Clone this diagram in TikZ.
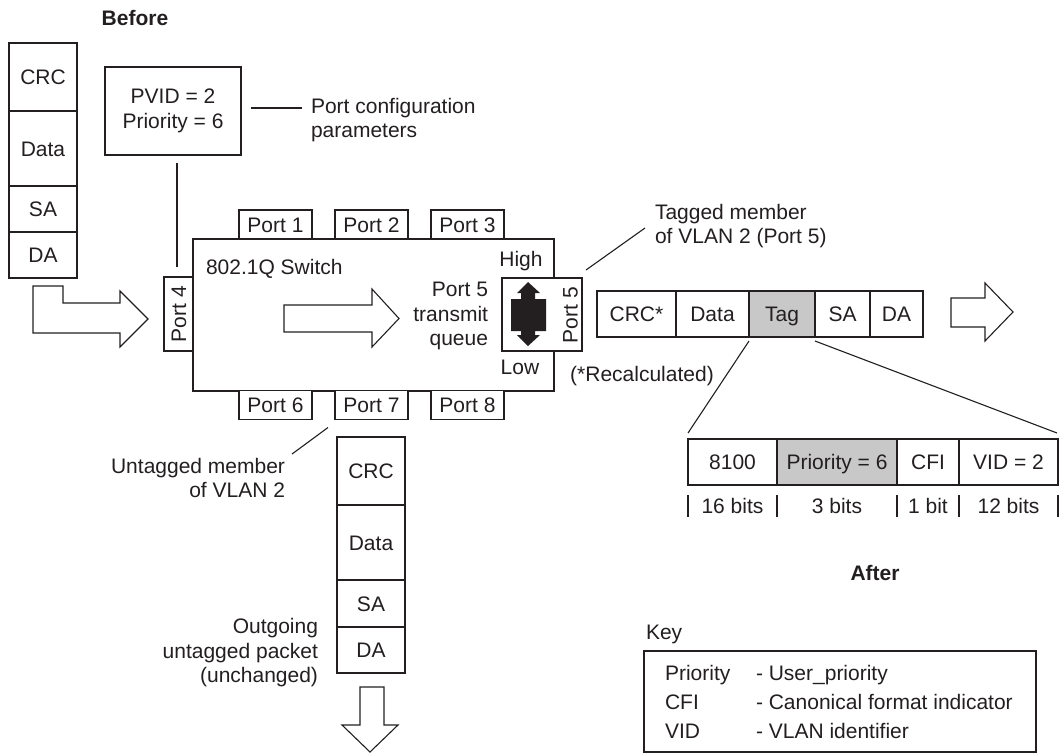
\documentclass[tikz,border=0pt]{standalone}
\usepackage{fontspec}
\setmainfont{Liberation Sans}
\usetikzlibrary{calc}
\definecolor{ink}{HTML}{231F20}
\definecolor{tagfill}{HTML}{C8C8C8}
\begin{document}
\begin{tikzpicture}[x=1pt,y=-1pt,
  every node/.style={text=ink, font=\fontsize{21}{24.5}\selectfont},
  capc/.style={text height=15pt, text depth=0pt},
  box/.style={draw=ink, fill=white, inner sep=0pt, outer sep=0pt, line width=1.1pt},
  fld/.style={box, capc},
  gfld/.style={fld, fill=tagfill},
  lbl/.style={inner sep=0pt, outer sep=0pt},
  one/.style={lbl, capc},
  conn/.style={draw=ink, line width=1.1pt},
  blockarrow/.style={draw=ink, fill=white, line width=1.1pt, line join=miter},
  title/.style={one, font=\fontsize{21}{24.5}\selectfont\bfseries}]
\useasboundingbox (0,0) rectangle (1060,753);
\fill[white] (0,0) rectangle (1060,753);

% Before
\node[title] (before) at (135,18) {Before};
\node[fld, minimum width=68, minimum height=68] (bcrc) at (43,77) {CRC};
\node[fld, minimum width=68, minimum height=75] (bdata) at (43,148.5) {Data};
\node[fld, minimum width=68, minimum height=46] (bsa) at (43,209) {SA};
\node[fld, minimum width=68, minimum height=46] (bda) at (43,255) {DA};

% L-shaped input arrow
\draw[blockarrow] (33,286) -- (63,286) -- (63,303) -- (120,303) -- (120,291) -- (148,319)
  -- (120,347) -- (120,333) -- (33,333) -- cycle;

% PVID box
\node[box, minimum width=136, minimum height=88, align=center] (pvid) at (173,111) {PVID = 2\\Priority = 6};
\node[lbl, align=left, anchor=west] (params) at (311,120) {Port configuration\\parameters};
\coordinate (pl1) at (251,108);
\coordinate (pl2) at (302,108);
\draw[conn] (pl1) -- (pl2);

% switch
\node[box, minimum width=361, minimum height=152] (switch) at (373.5,315) {};
\node[one, anchor=west] (swlbl) at (206,267) {802.1Q Switch};
\node[fld, minimum width=73, minimum height=29] (p1) at (275.5,224.5) {Port 1};
\node[fld, minimum width=73, minimum height=29] (p2) at (371.5,224.5) {Port 2};
\node[fld, minimum width=73, minimum height=29] (p3) at (467.5,224.5) {Port 3};
\node[fld, minimum width=73, minimum height=29] (p6) at (275.5,405) {Port 6};
\node[fld, minimum width=73, minimum height=29] (p7) at (371.5,405) {Port 7};
\node[fld, minimum width=73, minimum height=29] (p8) at (467.5,405) {Port 8};
\node[fld, minimum width=74, minimum height=29, rotate=90] (p4) at (178.5,314) {Port 4};
\node[box, minimum width=80, minimum height=73] (p5) at (542,314.5) {};
\node[one, rotate=90] (p5lbl) at (570,315) {Port 5};
\draw[conn] ($(pvid.south)+(4,8)$) -- ($(p4.east)+(-1.5,-10)$);

% queue
\fill[ink] (528,282) -- (540,293) -- (535,293) -- (535,299) -- (546,299) -- (546,331)
  -- (535,331) -- (535,335) -- (540,335) -- (528,346) -- (517,335) -- (521,335)
  -- (521,331) -- (511,331) -- (511,299) -- (521,299) -- (521,293) -- (517,293) -- cycle;
\node[one] (high) at (521,259) {High};
\node[one] (low) at (520,367) {Low};
\node[lbl, align=right, anchor=east] (queue) at (488,316) {Port 5\\transmit\\queue};

% inner arrow
\draw[blockarrow] (284,305) -- (372,305) -- (372,289) -- (399,318.5) -- (372,347) -- (372,332) -- (284,332) -- cycle;

% tagged member
\node[lbl, align=left, anchor=west] (tagged) at (655,226) {Tagged member\\of VLAN 2 (Port 5)};
\coordinate (tl1) at (586,270);
\coordinate (tl2) at (645,228);
\draw[conn] (tl1) -- (tl2);

% tagged packet
\node[fld, minimum width=79, minimum height=46] (tcrc) at (636.5,314) {CRC*};
\node[fld, minimum width=73, minimum height=46] (tdata) at (712.5,314) {Data};
\node[gfld, minimum width=66, minimum height=46] (ttag) at (782,314) {Tag};
\node[fld, minimum width=55, minimum height=46] (tsa) at (842.5,314) {SA};
\node[fld, minimum width=53, minimum height=46] (tda) at (896.5,314) {DA};
\draw[blockarrow] (951,298) -- (985,298) -- (985,283) -- (1013,312) -- (985,341) -- (985,327) -- (951,327) -- cycle;
\node[one] (recalc) at (642,374) {(*Recalculated)};

% tag fields
\node[fld, minimum width=89, minimum height=46] (f8100) at (732.5,462) {8100};
\node[gfld, minimum width=120, minimum height=46] (fprio) at (837,462) {Priority = 6};
\node[fld, minimum width=62, minimum height=46] (fcfi) at (928,462) {CFI};
\node[fld, minimum width=99, minimum height=46] (fvid) at (1008.5,462) {VID = 2};
\draw[conn] ($(ttag.south west)+(0,4)$) -- ($(f8100.north west)+(0,-6)$);
\draw[conn] ($(ttag.south east)+(0,4)$) -- ($(fvid.north east)+(-1,-6)$);

% bit labels
\foreach \x in {688,777,897,959,1058} {\draw[conn] (\x,495) -- (\x,517);}
\node[one] (b16) at (732.5,506) {16 bits};
\node[one] (b3) at (837,506) {3 bits};
\node[one] (b1) at (928,506) {1 bit};
\node[one] (b12) at (1008.5,506) {12 bits};
\node[title] (after) at (875,573) {After};

% untagged member
\node[lbl, align=right, anchor=east] (untag) at (285,478) {Untagged member\\of VLAN 2};
\draw[conn] ($(p7.south west)+(-7,8)$) -- ($(untag.north east)+(7,-4)$);

% outgoing packet
\node[fld, minimum width=68, minimum height=68] (dcrc) at (371,471) {CRC};
\node[fld, minimum width=68, minimum height=75] (ddata) at (371,542.5) {Data};
\node[fld, minimum width=68, minimum height=47] (dsa) at (371,603.5) {SA};
\node[fld, minimum width=68, minimum height=46] (dda) at (371,650) {DA};
\node[lbl, align=right, anchor=east] (outg) at (318,653) {Outgoing\\untagged packet\\(unchanged)};
\draw[blockarrow] (360,687) -- (384,687) -- (384,725) -- (398,725) -- (370,752) -- (342,725) -- (360,725) -- cycle;

% key
\node[one, anchor=west] (keylbl) at (646,632) {Key};
\node[box, minimum width=392, minimum height=101] (keybox) at (840,701.5) {};
\node[one, anchor=west] (k1) at (665,673) {Priority};
\node[one, anchor=west] (k2) at (665,702) {CFI};
\node[one, anchor=west] (k3) at (665,731) {VID};
\node[one, anchor=west] (k1d) at (756,673) {- User\_priority};
\node[one, anchor=west] (k2d) at (756,702) {- Canonical format indicator};
\node[one, anchor=west] (k3d) at (756,731) {- VLAN identifier};
\end{tikzpicture}
\end{document}
